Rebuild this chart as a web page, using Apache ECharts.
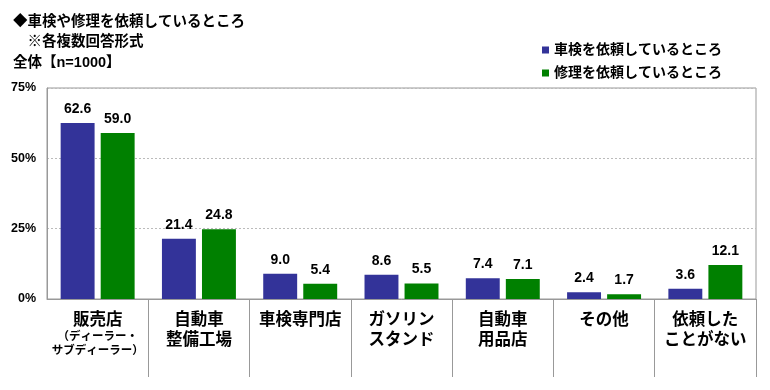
<!DOCTYPE html>
<html><head><meta charset="utf-8">
<script src="https://cdn.jsdelivr.net/npm/echarts@6/dist/echarts.min.js"></script>
<style>html,body{margin:0;padding:0;background:#fff}#c{width:770px;height:390px}</style>
</head><body><div id="c"></div>
<script>
const categories = ['販売店', '自動車\n整備工場', '車検専門店', 'ガソリン\nスタンド', '自動車\n用品店', 'その他', '依頼した\nことがない'];
const seriesNames = ['車検を依頼しているところ', '修理を依頼しているところ'];
const shakenValues = [62.6, 21.4, 9.0, 8.6, 7.4, 2.4, 3.6];
const shuriValues = [59.0, 24.8, 5.4, 5.5, 7.1, 1.7, 12.1];
const yTicks = [0, 25, 50, 75];
const titleLines = ['◆車検や修理を依頼しているところ', '　※各複数回答形式', '全体【n=1000】'];

const FONT = '"Liberation Sans", "Noto Sans CJK JP", sans-serif';
const chart = echarts.init(document.getElementById('c'), null, {renderer: 'canvas'});
const tStyle = {fontSize: 14.5, fontWeight: 'bold', color: '#000', fontFamily: FONT};
chart.setOption({
  backgroundColor: '#fff',
  animation: false,
  textStyle: {fontFamily: FONT},
  title: [
    {text: titleLines[0], left: 8, top: 10, textStyle: tStyle},
    {text: titleLines[1], left: 8, top: 30, textStyle: tStyle},
    {text: titleLines[2], left: 8, top: 51, textStyle: tStyle}
  ],
  legend: {
    orient: 'vertical', left: 537, top: 38, itemGap: 9, itemWidth: 7, itemHeight: 7, icon: 'rect',
    textStyle: {fontSize: 14, fontWeight: 'bold', color: '#000', fontFamily: FONT},
    data: seriesNames
  },
  grid: {left: 47, right: 14, top: 88, bottom: 91, show: true, borderColor: '#999', borderWidth: 1},
  xAxis: [{
    type: 'category', data: categories,
    axisLine: {lineStyle: {color: '#999'}},
    axisTick: {length: 5, lineStyle: {color: '#999'}},
    axisLabel: {
      interval: 0, margin: 11, color: '#000', fontSize: 16.5, fontWeight: 'bold', lineHeight: 20,
      fontFamily: FONT,
      formatter: function (v) {
        if (v === '販売店') return '販売店\n{s|（ディーラー・}\n{s|サブディーラー）}';
        return v;
      },
      rich: {s: {fontSize: 11.5, fontWeight: 'bold', lineHeight: 14, color: '#000', fontFamily: FONT}}
    }
  }, {
    type: 'category', data: categories, position: 'bottom', gridIndex: 0,
    axisLine: {show: true, lineStyle: {color: '#999', width: 0}},
    axisTick: {show: true, interval: function (i) { return i > 0; }, length: 78, lineStyle: {color: '#999'}},
    axisLabel: {show: false}
  }],
  yAxis: {
    type: 'value', min: 0, max: 75, interval: 25,
    axisLine: {show: true, lineStyle: {color: '#999'}},
    axisTick: {show: false},
    axisLabel: {formatter: function (v) { return yTicks.indexOf(v) >= 0 ? v + '%' : ''; }, color: '#000', fontSize: 12.5, fontWeight: 'bold', margin: 11, fontFamily: FONT},
    splitLine: {lineStyle: {color: '#bbb', type: [2, 2]}}
  },
  series: [
    {name: seriesNames[0], type: 'bar', data: shakenValues, barWidth: '33.5%', barGap: '18%',
     itemStyle: {color: '#333399'},
     label: {show: true, position: 'top', distance: 7, color: '#000', fontSize: 14, fontWeight: 'bold', fontFamily: FONT, formatter: p => p.value.toFixed(1)}},
    {name: seriesNames[1], type: 'bar', data: shuriValues, barWidth: '33.5%', barGap: '18%',
     itemStyle: {color: '#008000'},
     label: {show: true, position: 'top', distance: 7, color: '#000', fontSize: 14, fontWeight: 'bold', fontFamily: FONT, formatter: p => p.value.toFixed(1)}}
  ]
});
</script></body></html>
